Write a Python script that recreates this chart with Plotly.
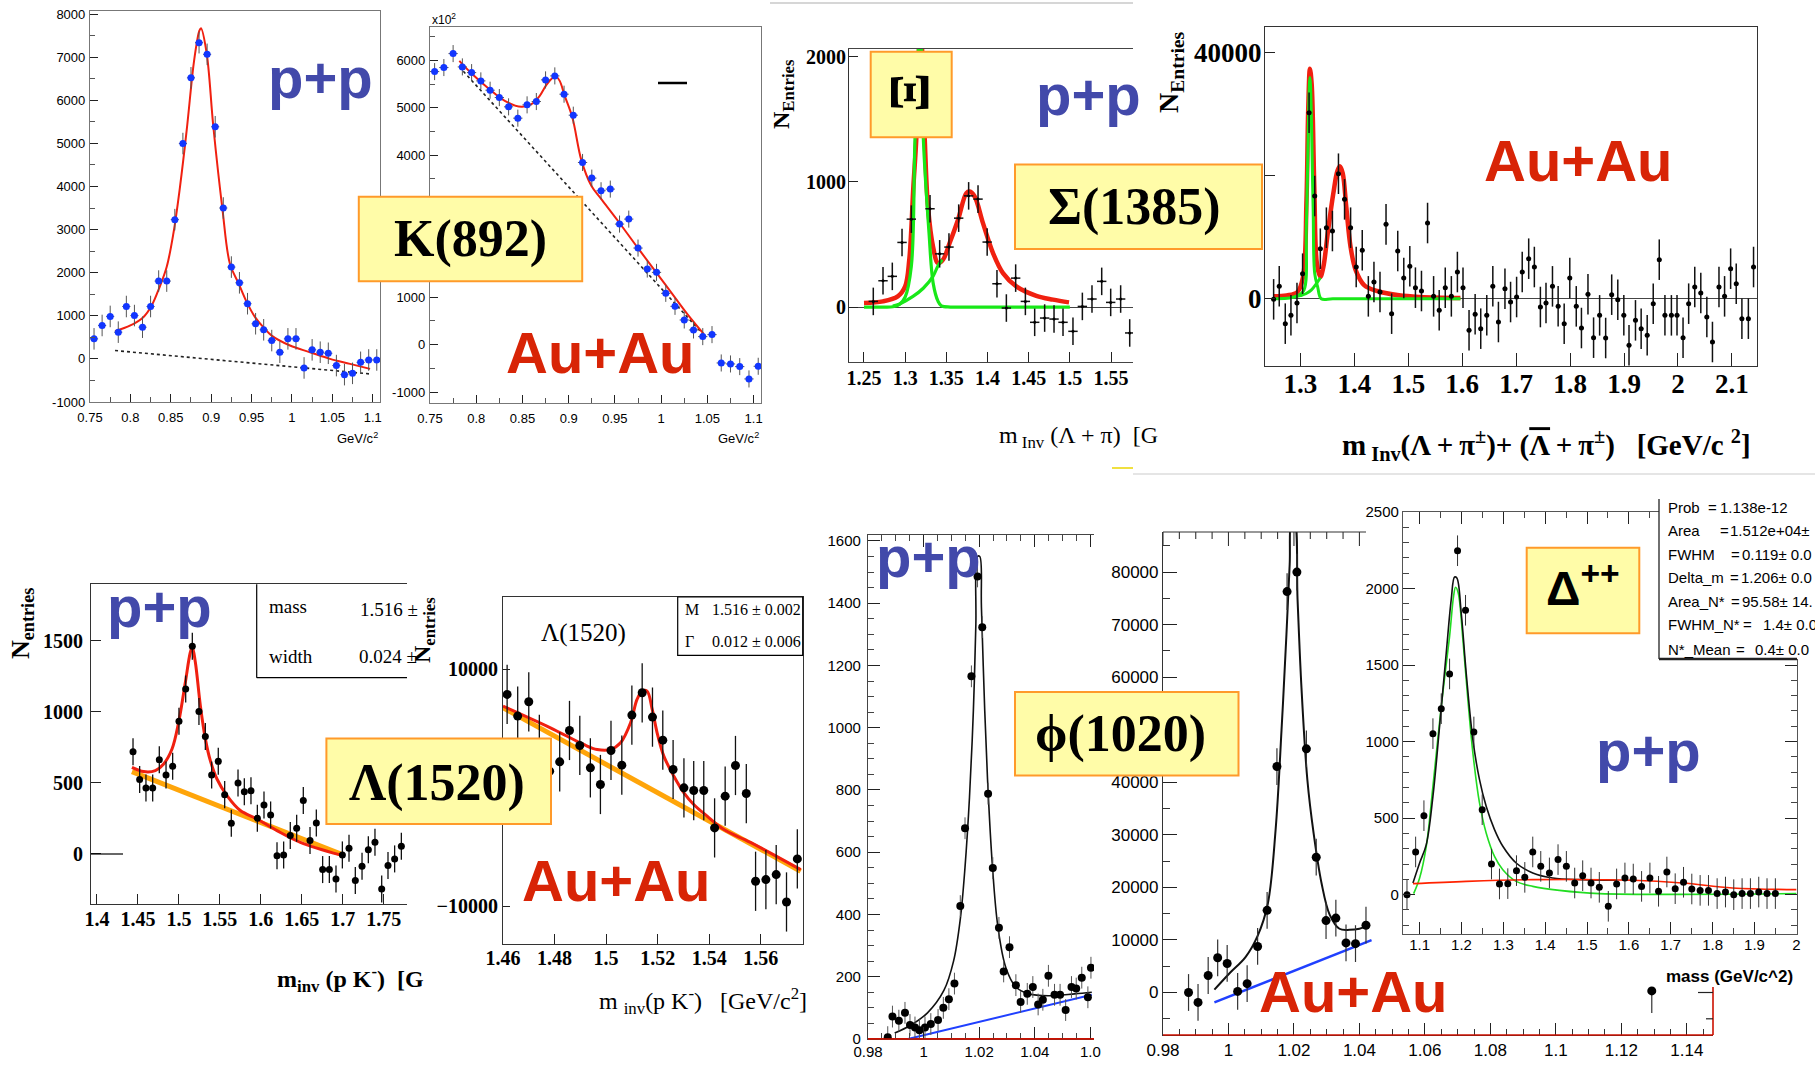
import numpy as np
import plotly.graph_objects as go

W, H = 1815, 1066

# ======================= DATA =======================
# --- K*(892), p+p ---
k_pp_mass = [0.755, 0.765, 0.775, 0.785, 0.795, 0.805, 0.815, 0.825, 0.835, 0.845, 0.855, 0.865,
             0.875, 0.885, 0.895, 0.905, 0.915, 0.925, 0.935, 0.945, 0.955, 0.965, 0.975, 0.985,
             0.995, 1.005, 1.015, 1.025, 1.035, 1.045, 1.055, 1.065, 1.075, 1.085, 1.095, 1.105]
k_pp_counts = [465, 775, 985, 620, 1215, 1005, 735, 1215, 1805, 1805, 3230, 4995,
               6520, 7335, 7065, 5385, 3500, 2130, 1765, 1280, 815, 675, 425, 155,
               465, 465, -210, 210, 155, 130, -155, -365, -335, -80, -25, -25]
k_pp_fit_mass = [0.781, 0.8, 0.816, 0.8264, 0.8358, 0.8449, 0.8532, 0.8614, 0.8697, 0.8779, 0.8821,
                 0.8854, 0.8874, 0.8944, 0.9027, 0.9138, 0.9233, 0.9337, 0.944, 0.9543, 0.9646,
                 0.9749, 0.9976, 1.0224, 1.0471, 1.0719, 1.0967]
k_pp_fit_counts = [643, 775, 968, 1240, 1650, 2130, 2905, 3990, 5305, 6778, 7320,
                   7614, 7668, 7090, 5385, 3500, 2200, 1760, 1317, 970, 736,
                   540, 310, 155, 0, -116, -232]
k_pp_bg_mass = [0.781, 1.0967]
k_pp_bg_counts = [194, -349]

# --- K*(892), Au+Au (x10^2) ---
k_au_mass = k_pp_mass
k_au_counts = [5762, 5847, 6142, 5861, 5741, 5566, 5369, 5214, 5018, 4779, 5060, 5130,
               5587, 5671, 5285, 4842, 3844, 3514, 3247, 3282, 2544, 2649, 2038, 1595,
               1525, 1082, 808, 520, 309, 169, 211, -387, -408, -464, -724, -457]
k_au_fit_mass = [0.7817, 0.795, 0.813, 0.8309, 0.8489, 0.8597, 0.8687, 0.8759, 0.8831, 0.8867, 0.8903,
                 0.8957, 0.904, 0.9137, 0.9245, 0.9353, 0.9532, 0.973, 0.9928, 1.0108, 1.0288, 1.046]
k_au_fit_counts = [5987, 5720, 5411, 5144, 5018, 5074, 5250, 5481, 5636, 5650, 5566,
                   5250, 4793, 3893, 3352, 3071, 2614, 2087, 1574, 1103, 632, 225]
k_au_bg_mass = [0.7817, 1.045]
k_au_bg_counts = [5861, 225]

# --- Sigma(1385), p+p ---
sig_pp_mass = [1.2613, 1.2731, 1.2844, 1.2962, 1.3075, 1.3302, 1.3419, 1.3532, 1.3650, 1.3771, 1.3885,
               1.3996, 1.4115, 1.4229, 1.4342, 1.4460, 1.4573, 1.4694, 1.4808, 1.4917, 1.5038, 1.5152,
               1.5269, 1.5387, 1.5496, 1.5617, 1.5727]
sig_pp_counts = [45, 210, 245, 516, 702, 785, 425, 479, 710, 888, 862,
                 519, 186, -8, 231, 45, -122, -88, -96, -122, -194, 5,
                 64, 205, 37, 64, -207]
sig_pp_tot_mass = [1.25, 1.273, 1.291, 1.30, 1.305, 1.310, 1.3136, 1.3186, 1.3237, 1.3277, 1.3338, 1.3399,
                   1.346, 1.354, 1.3642, 1.3743, 1.3783, 1.3844, 1.3945, 1.4067, 1.4188, 1.435, 1.4593,
                   1.4796, 1.499]
sig_pp_tot_counts = [32, 45, 85, 165, 378, 963, 1356, 2300, 1356, 803, 484, 351,
                     378, 511, 697, 910, 923, 883, 670, 431, 271, 165, 90, 59, 37]
sig_pp_xi_mass = [1.25, 1.27, 1.285, 1.293, 1.30, 1.3075, 1.312, 1.3186, 1.322, 1.329, 1.334, 1.34,
                  1.344, 1.355, 1.38, 1.45, 1.5]
sig_pp_xi_counts = [0, 0, 2, 20, 80, 325, 1356, 2300, 1356, 590, 191, 45, 10, 0, 0, 0, 0]
sig_pp_sig_mass = [1.285, 1.2933, 1.3095, 1.322, 1.3338, 1.3399, 1.345]
sig_pp_sig_counts = [8, 25, 85, 150, 245, 330, 378]

# --- Sigma(1385), Au+Au ---
sig_au_mass = [1.2503, 1.2607, 1.2719, 1.2824, 1.2936, 1.3040, 1.3160, 1.3265, 1.3369, 1.3481, 1.3593,
               1.3705, 1.3818, 1.3930, 1.4034, 1.4146, 1.4259, 1.4363, 1.4475, 1.4587, 1.4691, 1.4804,
               1.4916, 1.5028, 1.5132, 1.5244, 1.5357, 1.5469, 1.5573, 1.5685, 1.5798, 1.5910, 1.6014,
               1.6126, 1.6239, 1.6343, 1.6455, 1.6567, 1.6671, 1.6792, 1.6896, 1.7008, 1.7112, 1.7232,
               1.7337, 1.7449, 1.7553, 1.7673, 1.7778, 1.7890, 1.7994, 1.8114, 1.8210, 1.8331, 1.8435,
               1.8547, 1.8659, 1.8771, 1.8884, 1.8996, 1.9092, 1.9212, 1.9317, 1.9429, 1.9541, 1.9653,
               1.9758, 1.9878, 1.9982, 2.0094, 2.0198, 2.0311, 2.0423, 2.0535, 2.0639, 2.0760, 2.0864,
               2.0976, 2.1080, 2.1185, 2.1305, 2.1401]
sig_au_counts = [-109, 2008, -4069, -2713, -705, 4069, 30277, 16712, 8139, 11557, 11015,
                 20347, 16169, 11557, 5155, 7868, 380, 2713, 1085, 12100, -2442, 7759,
                 3364, 5263, 1791, 1248, 12317, 380, -1899, 1791, 380, 4341, 1791,
                 -5155, -2550, -4883, -2713, 2008, -3798, 1628, -543, 271, 4341, 6511,
                 5155, -1356, -705, 2008, -1248, -4069, 3364, -1248, -4775, 705, -6348,
                 -2713, -6403, 651, -163, -2713, -7596, -3527, -4883, -5968, -814, 6348,
                 -2713, -2713, -2713, -6348, -814, 1899, 922, -2984, -7054, 1899, 380,
                 4883, 2442, -3256, -3256, 5155]
sig_au_tot_mass = [1.2503, 1.2743, 1.2944, 1.3048, 1.3112, 1.3144, 1.3176, 1.3208, 1.3257, 1.3305, 1.3369,
                   1.3425, 1.3505, 1.3609, 1.3689, 1.3737, 1.3786, 1.3850, 1.3930, 1.4026, 1.4186, 1.4427,
                   1.4828, 1.5228, 1.5966]
sig_au_tot_counts = [380, 543, 1085, 3527, 16006, 30655, 37439, 34997, 18177, 5697, 3527,
                     5155, 10580, 17092, 20890, 21541, 20347, 14921, 8410, 4612, 2170, 1248,
                     543, 271, 109]
sig_au_xi_mass = [1.2503, 1.28, 1.295, 1.3064, 1.311, 1.3176, 1.3235, 1.3265, 1.332, 1.3385, 1.36, 1.45, 1.5966]
sig_au_xi_counts = [0, 100, 500, 1356, 12000, 36000, 15000, 4069, 1900, 0, 0, 0, 0]
sig_au_sig_mass = [1.29, 1.30, 1.31, 1.32, 1.33, 1.337]
sig_au_sig_counts = [300, 500, 800, 1400, 2500, 3400]

# --- Lambda(1520), p+p ---
lam_pp_mass = [1.4440, 1.4521, 1.4598, 1.4680, 1.4761, 1.4843, 1.4924, 1.5001, 1.5083, 1.5164, 1.5245,
               1.5323, 1.5400, 1.5481, 1.5559, 1.5640, 1.5722, 1.5799, 1.5880, 1.5958, 1.6039, 1.6120,
               1.6198, 1.6279, 1.6360, 1.6438, 1.6519, 1.6601, 1.6678, 1.6755, 1.6837, 1.6918, 1.6996,
               1.7077, 1.7154, 1.7236, 1.7313, 1.7394, 1.7476, 1.7553, 1.7634, 1.7716]
lam_pp_counts = [719, 523, 464, 464, 663, 555, 616, 933, 1160, 1460, 1001,
                 825, 555, 651, 417, 216, 499, 438, 445, 251, 344, 274,
                 -12, -7, 129, 180, 375, 94, 218, -110, -110, -176, -7,
                 40, -187, -87, 30, 82, -246, -82, -35, 54]
lam_pp_fit_mass = [1.4427, 1.4570, 1.4712, 1.4814, 1.4916, 1.4997, 1.5079, 1.5140, 1.5164, 1.5201, 1.5262,
                   1.5323, 1.5384, 1.5465, 1.5587, 1.5750, 1.5954, 1.6198, 1.6483, 1.6971]
lam_pp_fit_counts = [609, 579, 586, 633, 738, 926, 1207, 1418, 1453, 1348, 1043,
                     809, 656, 527, 410, 305, 246, 164, 82, -7]
lam_pp_bg_mass = [1.4427, 1.6971]
lam_pp_bg_counts = [579, 0]

# --- Lambda(1520), Au+Au ---
lam_au_mass = [1.4616, 1.4657, 1.4700, 1.4741, 1.4781, 1.4820, 1.4858, 1.4898, 1.4939, 1.4978, 1.5019,
               1.5061, 1.5100, 1.5140, 1.5180, 1.5220, 1.5260, 1.5302, 1.5340, 1.5379, 1.5421, 1.5462,
               1.5502, 1.5544, 1.5580, 1.5620, 1.5660, 1.5700, 1.5742]
lam_au_counts = [7887, 6056, 7268, 3662, 1408, 2197, 4845, 3577, 1690, 282, 3155,
                 1915, 6141, 8028, 5972, 4028, 1549, 0, -225, -225, -3380, -704,
                 1887, -479, -7887, -7746, -7324, -9634, -6000]
lam_au_fit_mass = [1.46, 1.4784, 1.4913, 1.4965, 1.5017, 1.5056, 1.5095, 1.5120, 1.5140, 1.5159, 1.5179,
                   1.5198, 1.5224, 1.5263, 1.5302, 1.5340, 1.5392, 1.5457, 1.5560, 1.5755]
lam_au_fit_counts = [6901, 5070, 3662, 3239, 3239, 3803, 5493, 7465, 8169, 8169, 6620,
                     4648, 2676, 986, -423, -1408, -2394, -3521, -4600, -6900]
lam_au_bg_mass = [1.46, 1.5755]
lam_au_bg_counts = [6761, -7042]

# --- phi(1020), p+p ---
phi_pp_mass = [0.9871, 0.9888, 0.9911, 0.9933, 0.9951, 0.9969, 0.9985, 1.0005, 1.0026, 1.0052,
               1.0071, 1.0091, 1.0111, 1.0132, 1.0149, 1.0172, 1.0194, 1.0211, 1.0232, 1.0249,
               1.0271, 1.0288, 1.0309, 1.0332, 1.0349, 1.0373, 1.0393, 1.0412, 1.0429, 1.0449,
               1.0471, 1.0491, 1.0511, 1.0532, 1.0549, 1.0569, 1.0591, 1.0602]
phi_pp_counts = [6, 72, 59, 84, 45, 37, 28, 37, 48, 61,
                 100, 128, 178, 427, 677, 1165, 1486, 1323, 788, 549,
                 357, 217, 295, 173, 119, 145, 167, 111, 126, 203,
                 142, 142, 93, 167, 162, 197, 134, 229]
phi_pp_fit_mass = [0.9896, 0.9955, 1.0014, 1.0073, 1.0108, 1.0132, 1.0149, 1.0165, 1.0179, 1.0188, 1.0194,
                   1.0202, 1.0208, 1.0220, 1.0232, 1.0247, 1.0267, 1.0296, 1.0332, 1.0379, 1.0449, 1.0544,
                   1.0605]
phi_pp_fit_counts = [19, 45, 84, 156, 251, 385, 552, 775, 1054, 1332, 1550,
                     1550, 1388, 1054, 797, 563, 362, 229, 167, 145, 139, 145, 150]
phi_pp_bg_mass = [0.9944, 1.0605]
phi_pp_bg_counts = [0, 142]
phi_pp_zero_mass = [0.98, 1.0613]
phi_pp_zero_counts = [0, 0]

# --- phi(1020), Au+Au ---
phi_au_mass = [0.9878, 0.9907, 0.9938, 0.9967, 0.9996, 1.0028, 1.0057, 1.0089, 1.0118, 1.0148,
               1.0179, 1.0209, 1.0238, 1.0268, 1.0298, 1.0328, 1.0359, 1.0388, 1.0420]
phi_au_counts = [0, -1887, 3235, 6604, 5526, 202, 1685, 8760, 15633, 42992,
                 76280, 79987, 46361, 25741, 13679, 14151, 9434, 9299, 12803]
phi_au_far_mass = [1.1293]
phi_au_far_counts = [300]
phi_au_fit_mass = [0.9957, 1.0004, 1.0052, 1.0089, 1.0120, 1.0144, 1.0162, 1.0177, 1.0187, 1.0193, 1.0201,
                   1.0211, 1.0223, 1.0241, 1.0260, 1.0284, 1.0309, 1.0339, 1.0370, 1.0400, 1.0424]
phi_au_fit_counts = [539, 3706, 6739, 10782, 16846, 30997, 49865, 68059, 81536, 90000, 90000,
                     74798, 57951, 40431, 30323, 20889, 14825, 12129, 11927, 12129, 12668]
phi_au_bg_mass = [0.9957, 1.0437]
phi_au_bg_counts = [-1887, 9973]

# --- Delta++, p+p ---
delta_mass = [1.0698, 1.0905, 1.1103, 1.1318, 1.1517, 1.1716, 1.1906, 1.2097, 1.2296, 1.2495,
              1.2717, 1.2908, 1.3107, 1.3314, 1.3513, 1.3703, 1.3894, 1.4101, 1.4307, 1.4506,
              1.4705, 1.4896, 1.5095, 1.5293, 1.5508, 1.5707, 1.5905, 1.6104, 1.6303, 1.6502,
              1.6708, 1.6907, 1.7106, 1.7305, 1.7503, 1.7702, 1.7901, 1.8108, 1.8307, 1.8505,
              1.8704, 1.8903, 1.9102, 1.9300, 1.9499]
delta_counts = [0, 279, 516, 1052, 1215, 1442, 2247, 1858, 1063, 555,
                200, 70, 72, 157, 113, 279, 185, 142, 229, 185,
                76, 124, 76, 48, -76, 70, 109, 102, 54, 109,
                22, 148, 39, 81, 37, 28, 28, 7, 17, 0,
                7, 7, 17, 7, 7]
delta_tot_mass = [1.0841, 1.1, 1.1159, 1.1318, 1.1477, 1.1636, 1.1755, 1.1835, 1.1890, 1.1994, 1.2113,
                  1.2272, 1.2431, 1.2590, 1.2789, 1.2988, 1.3306, 1.3703, 1.4180, 1.4896, 1.5691]
delta_tot_counts = [76, 207, 327, 642, 1100, 1579, 1927, 2075, 2069, 1840, 1448,
                    1013, 751, 577, 425, 316, 207, 142, 109, 98, 94]
delta_sig_mass = [1.0857, 1.1, 1.1159, 1.1318, 1.1517, 1.1716, 1.1811, 1.1859, 1.1922, 1.2034, 1.2153,
                  1.2272, 1.2431, 1.2590, 1.2789, 1.2988, 1.3306, 1.3703, 1.4339, 1.5293, 2.0]
delta_sig_counts = [7, 109, 316, 708, 1230, 1688, 1949, 2008, 1971, 1666, 1274,
                    926, 599, 403, 250, 163, 87, 54, 28, 7, 7]
delta_bg_mass = [1.0841, 1.2113, 1.3703, 1.6088, 1.7281, 1.8473, 2.0]
delta_bg_counts = [72, 87, 98, 94, 76, 44, 33]

# tick labels
k_xticks = [0.75, 0.8, 0.85, 0.9, 0.95, 1.0, 1.05, 1.1]
k_xlabels = ["0.75", "0.8", "0.85", "0.9", "0.95", "1", "1.05", "1.1"]
k_pp_yticks = [-1000, 0, 1000, 2000, 3000, 4000, 5000, 6000, 7000, 8000]
k_au_yticks = [-1000, 0, 1000, 2000, 3000, 4000, 5000, 6000]
sig_pp_xticks = [1.25, 1.3, 1.35, 1.4, 1.45, 1.5, 1.55]
sig_pp_xlabels = ["1.25", "1.3", "1.35", "1.4", "1.45", "1.5", "1.55"]
sig_pp_yticks = [0, 1000, 2000]
sig_au_xticks = [1.3, 1.4, 1.5, 1.6, 1.7, 1.8, 1.9, 2.0, 2.1]
sig_au_xlabels = ["1.3", "1.4", "1.5", "1.6", "1.7", "1.8", "1.9", "2", "2.1"]
sig_au_yticks = [0, 20000, 40000]
lam_pp_xticks = [1.4, 1.45, 1.5, 1.55, 1.6, 1.65, 1.7, 1.75]
lam_pp_xlabels = ["1.4", "1.45", "1.5", "1.55", "1.6", "1.65", "1.7", "1.75"]
lam_pp_yticks = [0, 500, 1000, 1500]
lam_au_xticks = [1.46, 1.48, 1.5, 1.52, 1.54, 1.56]
lam_au_xlabels = ["1.46", "1.48", "1.5", "1.52", "1.54", "1.56"]
lam_au_yticks = [-10000, 10000]
lam_au_ylabels = ["\u221210000", "10000"]
phi_pp_xticks = [0.98, 1.0, 1.02, 1.04, 1.06]
phi_pp_xlabels = ["0.98", "1", "1.02", "1.04", "1.0"]
phi_pp_yticks = [0, 200, 400, 600, 800, 1000, 1200, 1400, 1600]
phi_au_xticks = [0.98, 1.0, 1.02, 1.04, 1.06, 1.08, 1.1, 1.12, 1.14]
phi_au_xlabels = ["0.98", "1", "1.02", "1.04", "1.06", "1.08", "1.1", "1.12", "1.14"]
phi_au_yticks = [0, 10000, 20000, 30000, 40000, 50000, 60000, 70000, 80000]
delta_xticks = [1.1, 1.2, 1.3, 1.4, 1.5, 1.6, 1.7, 1.8, 1.9, 2.0]
delta_xlabels = ["1.1", "1.2", "1.3", "1.4", "1.5", "1.6", "1.7", "1.8", "1.9", "2"]
delta_yticks = [0, 500, 1000, 1500, 2000, 2500]

# ======================= STYLE =======================
SANS = "Liberation Sans, Arial, Helvetica, sans-serif"
NARROW = "Liberation Sans Narrow, Arial Narrow, Liberation Sans, sans-serif"
SERIF = "Liberation Serif, Times New Roman, Times, serif"
PP_BLUE = "#4249AA"
AU_RED = "#D82406"
FIT_RED = "#F02010"
GREEN = "#18E818"
ORANGE = "#FFA50A"
BOX_FILL = "#FFFCA8"
BOX_LINE = "#FF9A2A"

fig = go.Figure()


def ref(i):
    return ("x", "y") if i == 1 else ("x%d" % i, "y%d" % i)


def curve(i, x, y, color, width, dash="solid", shape="spline"):
    xr, yr = ref(i)
    fig.add_trace(go.Scatter(x=x, y=y, mode="lines", xaxis=xr, yaxis=yr, hoverinfo="skip",
                             line=dict(color=color, width=width, dash=dash, shape=shape)))


def points(i, x, y, ey, ex=None, color="black", size=7, ecolor="#222", eth=1.2, eminus=None):
    xr, yr = ref(i)
    ed = dict(type="constant", value=ey, thickness=eth, width=0, color=ecolor)
    if eminus is not None:
        ed = dict(type="constant", value=0, valueminus=eminus, symmetric=False,
                  thickness=eth, width=0, color=ecolor)
    tr = go.Scatter(x=x, y=y, mode="markers", xaxis=xr, yaxis=yr, hoverinfo="skip",
                    marker=dict(color=color, size=size, line=dict(width=0)), error_y=ed)
    if ex:
        tr.error_x = dict(type="constant", value=ex, thickness=eth, width=0, color=ecolor)
    fig.add_trace(tr)


# ---- panel 1: K p+p
curve(1, k_pp_bg_mass, k_pp_bg_counts, "#222", 1.6, dash="dot", shape="linear")
curve(1, k_pp_fit_mass, k_pp_fit_counts, FIT_RED, 2)
points(1, k_pp_mass, k_pp_counts, 250, 0.005, color="#1236FF", size=7, ecolor="#555", eth=1)
# ---- panel 2: K Au+Au
curve(2, k_au_bg_mass, k_au_bg_counts, "#222", 1.6, dash="dot", shape="linear")
curve(2, k_au_fit_mass, k_au_fit_counts, FIT_RED, 2)
points(2, k_au_mass, k_au_counts, 180, 0.005, color="#1236FF", size=7, ecolor="#555", eth=1)
# ---- panel 3: Sigma p+p
curve(3, sig_pp_tot_mass, sig_pp_tot_counts, FIT_RED, 4.5)
curve(3, sig_pp_xi_mass, sig_pp_xi_counts, GREEN, 3.2)
curve(3, sig_pp_sig_mass, sig_pp_sig_counts, GREEN, 3.2)
points(3, sig_pp_mass, sig_pp_counts, 110, 0.0057, size=3, ecolor="#111", eth=1.5)
# ---- panel 4: Sigma Au+Au
curve(4, sig_au_tot_mass, sig_au_tot_counts, FIT_RED, 4.5)
curve(4, sig_au_xi_mass, sig_au_xi_counts, GREEN, 3)
curve(4, sig_au_sig_mass, sig_au_sig_counts, GREEN, 3)
points(4, sig_au_mass, sig_au_counts, 3300, 0.004, size=5, ecolor="#111", eth=1.5)
# ---- panel 5: Lambda p+p
curve(5, lam_pp_bg_mass, lam_pp_bg_counts, ORANGE, 5, shape="linear")
curve(5, lam_pp_fit_mass, lam_pp_fit_counts, FIT_RED, 3)
points(5, lam_pp_mass, lam_pp_counts, 95, 0.003, size=7, ecolor="#111", eth=1.3)
# ---- panel 6: Lambda Au+Au
curve(6, lam_au_bg_mass, lam_au_bg_counts, ORANGE, 5, shape="linear")
curve(6, lam_au_fit_mass, lam_au_fit_counts, FIT_RED, 3)
points(6, lam_au_mass, lam_au_counts, 2500, 0.0015, size=9, ecolor="#111", eth=1.3)
# ---- panel 7: phi p+p
curve(7, phi_pp_zero_mass, phi_pp_zero_counts, "#CC1100", 2, shape="linear")
curve(7, phi_pp_bg_mass, phi_pp_bg_counts, "#2040FF", 2, shape="linear")
curve(7, phi_pp_fit_mass, phi_pp_fit_counts, "#111", 1.6)
points(7, phi_pp_mass, phi_pp_counts, 35, None, size=8, ecolor="#555", eth=1)
# ---- panel 8: phi Au+Au
curve(8, phi_au_bg_mass, phi_au_bg_counts, "#2040FF", 2.5, shape="linear")
curve(8, phi_au_fit_mass, phi_au_fit_counts, "#111", 2)
points(8, phi_au_mass, phi_au_counts, 3500, None, size=9, ecolor="#333", eth=1.2)
points(8, phi_au_far_mass, phi_au_far_counts, 0, None, size=9, ecolor="#333", eth=1.2, eminus=4200)
# ---- panel 9: Delta++ p+p
curve(9, delta_sig_mass, delta_sig_counts, "#22DD22", 1.6)
curve(9, delta_tot_mass, delta_tot_counts, "#111", 1.6)
curve(9, delta_bg_mass, delta_bg_counts, "#FF2200", 1.6)
points(9, delta_mass, delta_counts, 100, 0.004, size=7, ecolor="#333", eth=1)

# ======================= AXES =======================
axes = {}


def rng_step(a, b, s, exclude=None):
    v = np.round(np.arange(a, b + s / 2, s), 5).tolist()
    if exclude:
        v = [t for t in v if all(abs(t - e) > 1e-6 for e in exclude)]
    return v


def setup(i, frame, xr, yr, xt, xl, yt, yl, font, xopt=None, yopt=None):
    x0, x1, y0, y1 = frame
    xn = "xaxis" if i == 1 else "xaxis%d" % i
    yn = "yaxis" if i == 1 else "yaxis%d" % i
    xa_ref, ya_ref = ref(i)
    base = dict(showgrid=False, zeroline=False, fixedrange=True, ticks="inside", tickwidth=1.2,
                tickcolor="#222", showline=True, linecolor="#333", linewidth=1.2, mirror=True,
                tickmode="array", tickfont=font, ticklen=9, automargin=False)
    xa = dict(base, domain=[x0 / W, x1 / W], range=xr, anchor=ya_ref, tickvals=xt, ticktext=xl)
    ya = dict(base, domain=[1 - y1 / H, 1 - y0 / H], range=yr, anchor=xa_ref, tickvals=yt, ticktext=yl)
    xa.update(xopt or {})
    ya.update(yopt or {})
    axes[xn] = xa
    axes[yn] = ya


def minor(vals, length, color="#222"):
    return dict(tickmode="array", tickvals=vals, ticks="inside", ticklen=length, tickwidth=1,
                tickcolor=color, showgrid=False)


f_k = dict(family=NARROW, size=13, color="black")
setup(1, (90, 380, 11, 402), [0.75, 1.109], [-1000, 8070], k_xticks, k_xlabels,
      k_pp_yticks, [str(v) for v in k_pp_yticks], f_k,
      xopt=dict(linecolor="#777", ticklen=8, ticklabelstandoff=3,
                minor=minor(rng_step(0.775, 1.1, 0.05), 5, "#555")),
      yopt=dict(linecolor="#777", ticklen=8, ticklabelstandoff=1,
                minor=minor(rng_step(-500, 7500, 1000), 5, "#555")))
setup(2, (430, 761, 27, 403), [0.75, 1.108], [-1232, 6703], k_xticks, k_xlabels,
      k_au_yticks, [str(v) for v in k_au_yticks], f_k,
      xopt=dict(linecolor="#777", ticklen=8, ticklabelstandoff=3,
                minor=minor(rng_step(0.775, 1.1, 0.05), 5, "#555")),
      yopt=dict(linecolor="#777", ticklen=8, ticklabelstandoff=1,
                minor=minor(rng_step(-500, 6500, 1000), 5, "#555")))
f_s3 = dict(family=SERIF, size=20, color="black", weight="bold")
setup(3, (849, 1133, 49, 362), [1.2318, 1.5767], [-439, 2061], sig_pp_xticks, sig_pp_xlabels,
      sig_pp_yticks, ["0", "1000", "2000"], f_s3,
      xopt=dict(linecolor="#444", ticklen=10, ticklabelstandoff=-2),
      yopt=dict(mirror=False, ticklen=9, ticklabelstandoff=-2,
                zeroline=True, zerolinecolor="#444", zerolinewidth=1.2))
f_s4 = dict(family=SERIF, size=27, color="black", weight="bold")
setup(4, (1265, 1757, 27, 366), [1.2343, 2.1465], [-10960, 44232], sig_au_xticks, sig_au_xlabels,
      sig_au_yticks, ["0", "20000", "40000"], f_s4,
      xopt=dict(ticklen=13, ticklabelstandoff=-7),
      yopt=dict(ticklen=10, ticklabelstandoff=-3,
                zeroline=True, zerolinecolor="#444", zerolinewidth=1.2))
f_s5 = dict(family=SERIF, size=20, color="black", weight="bold")
setup(5, (91, 407, 584, 904), [1.3927, 1.7785], [-352, 1898], lam_pp_xticks, lam_pp_xlabels,
      lam_pp_yticks, ["0", "500", "1000", "1500"], f_s5,
      xopt=dict(ticklen=10, ticklabelstandoff=-3),
      yopt=dict(mirror=False, ticklen=10, ticklabelstandoff=3))
setup(6, (503, 803, 597, 944), [1.46, 1.5764], [-13183, 16113], lam_au_xticks, lam_au_xlabels,
      lam_au_yticks, lam_au_ylabels, f_s5,
      xopt=dict(ticklen=10, ticklabelstandoff=-4),
      yopt=dict(ticklen=7, ticklabelstandoff=0))
f_n7 = dict(family=NARROW, size=15, color="black")
setup(7, (868, 1094, 535, 1039), [0.98, 1.0613], [0, 1619], phi_pp_xticks, phi_pp_xlabels,
      phi_pp_yticks, [str(v) for v in phi_pp_yticks], f_n7,
      xopt=dict(mirror="ticks", linecolor="#444", ticklen=12, ticklabelstandoff=-1,
                minor=minor(rng_step(0.985, 1.06, 0.005, exclude=phi_pp_xticks), 6, "#444")),
      yopt=dict(mirror=False, linecolor="#444", ticklen=12, ticklabelstandoff=3,
                minor=minor(rng_step(50, 1600, 50, exclude=phi_pp_yticks), 6, "#444")))
f_n8 = dict(family=NARROW, size=17, color="black")
setup(8, (1163, 1713, 532, 1035), [0.98, 1.148], [-8086, 87615], phi_au_xticks, phi_au_xlabels,
      phi_au_yticks, [str(v) for v in phi_au_yticks], f_n8,
      xopt=dict(mirror=False, linecolor="#333", ticklen=12, ticklabelstandoff=-1,
                minor=minor(rng_step(0.985, 1.145, 0.005, exclude=phi_au_xticks), 6, "#333")),
      yopt=dict(mirror=False, linecolor="#333", ticklen=14, ticklabelstandoff=0,
                minor=minor(rng_step(-5000, 85000, 10000), 7, "#333")))
f_n9 = dict(family=NARROW, size=15, color="black")
setup(9, (1403, 1797, 512, 934), [1.0603, 2.0016], [-257, 2500], delta_xticks, delta_xlabels,
      delta_yticks, [str(v) for v in delta_yticks], f_n9,
      xopt=dict(mirror="ticks", linecolor="#555", ticklen=12, ticklabelstandoff=-3,
                minor=minor(rng_step(1.15, 1.95, 0.1), 6, "#444")),
      yopt=dict(mirror="ticks", linecolor="#555", ticklen=12, ticklabelstandoff=0,
                minor=minor(rng_step(-200, 2400, 100, exclude=delta_yticks), 6, "#444")))

# ======================= SHAPES & TEXT =======================
shapes = []
annotations = []


def P(x, y):
    return x / W, 1 - y / H


def seg(x0, y0, x1, y1, color="black", width=1.2):
    a, b = P(x0, y0)
    c, d = P(x1, y1)
    shapes.append(dict(type="line", xref="paper", yref="paper", x0=a, y0=b, x1=c, y1=d,
                       line=dict(color=color, width=width), layer="above"))


def box(x0, y0, x1, y1, fill, line=None, width=2):
    a, b = P(x0, y0)
    c, d = P(x1, y1)
    shapes.append(dict(type="rect", xref="paper", yref="paper", x0=a, y0=d, x1=c, y1=b,
                       fillcolor=fill, line=dict(color=line or fill, width=width if line else 0),
                       layer="above"))


def txt(s, x, y, size, color="black", family=SANS, xa="center", ya="middle", angle=0):
    a, b = P(x, y)
    annotations.append(dict(text=s, x=a, y=b, xref="paper", yref="paper", showarrow=False,
                            xanchor=xa, yanchor=ya, textangle=angle,
                            font=dict(size=size, color=color, family=family)))


# image-edge decorations
seg(770, 3, 1133, 3, "#C8C8C8", 1.5)
seg(1133, 474, 1815, 474, "#DDDDDD", 1.5)
seg(1112, 468, 1133, 468, "#F0E040", 2)
seg(658, 83, 687, 83, "black", 2.5)                  # legend stub, K Au+Au
seg(91, 854, 123, 854, "black", 1.2)                  # long zero tick, Lambda p+p
seg(256.7, 584.3, 256.7, 677.7, "black", 1.2)         # stat box, Lambda p+p
seg(256.7, 677.7, 407, 677.7, "black", 1.2)
box(677.7, 597, 802.7, 655.3, "white", "black", 1.2)  # stat box, Lambda Au+Au
seg(868, 1039, 1094, 1039, "#CC1100", 1.6)            # red x axis, phi p+p
seg(1163, 1035, 1713, 1035, "#CC1100", 1.6)           # red x axis, phi Au+Au
seg(1713, 987, 1713, 1035, "#CC1100", 1.6)
seg(1698, 992.5, 1713, 992.5, "#222", 1.2)
seg(1706, 1018.8, 1713, 1018.8, "#222", 1.2)
seg(1163, 532, 1366, 532, "#333", 1.2)
for v in rng_step(0.98, 1.04, 0.005):
    xp = 1163 + (v - 0.98) * 550 / 0.168
    major = abs(v * 50 - round(v * 50)) < 1e-6
    seg(xp, 532, xp, 532 + (14 if major else 7), "#333", 1.1)
# stat box, Delta++
box(1659, 499, 1815, 659, "white")
seg(1659, 499, 1659, 659, "#222", 1.3)
seg(1659, 659, 1797, 659, "#222", 2.5)

# label boxes
box(358.8, 196.8, 582.2, 281.3, BOX_FILL, BOX_LINE, 2)
box(870.7, 51.7, 951.7, 137.3, BOX_FILL, BOX_LINE, 2)
box(1015, 164.4, 1262, 248.9, BOX_FILL, BOX_LINE, 2)
box(326.4, 738.5, 551, 824, BOX_FILL, BOX_LINE, 2)
box(1015, 692, 1238.5, 775.5, BOX_FILL, BOX_LINE, 2)
box(1526.7, 547.7, 1639.3, 633.3, BOX_FILL, BOX_LINE, 2)
txt("<b>K(892)</b>", 470.5, 239, 52, family=SERIF)
txt("<b>\u039e</b>", 910, 92, 58, family=SERIF, angle=-90)
txt("<b>\u03a3(1385)</b>", 1134, 207, 52, family=SERIF)
txt("<b>\u039b(1520)</b>", 437, 783, 52, family=SERIF)
txt("<b>\u03d5(1020)</b>", 1120, 734, 52, family=SERIF)
txt("<b>\u0394<sup>++</sup></b>", 1582.7, 585, 48, family=SANS)

# collision-system labels
for (x, y) in [(320, 77), (1088.5, 94.5), (159.5, 606.5), (928, 556), (1648, 750.5)]:
    txt("<b>p+p</b>", x, y, 58, PP_BLUE)
for (x, y) in [(600, 352.5), (1578.5, 160), (616.5, 880), (1353, 991.5)]:
    txt("<b>Au+Au</b>", x, y, 58, AU_RED)

# axis titles and units
TH = "\u2009"
txt("GeV/c<sup>2</sup>", 380, 438, 13, family=NARROW, xa="right")
txt("GeV/c<sup>2</sup>", 761, 438, 13, family=NARROW, xa="right")
txt("x10<sup>2</sup>", 430, 19, 12, family=NARROW, xa="left")
txt("<b>N<sub>Entries</sub></b>", 783, 94, 24, family=SERIF, angle=-90)
txt("m<sub> Inv</sub> (\u039b + \u03c0)  [G", 997, 437, 24, family=SERIF, xa="left")
txt("<b>N<sub>Entries</sub></b>", 1170, 72, 28, family=SERIF, angle=-90)
txt("<b>m<sub> Inv</sub>(\u039b" + TH + "+" + TH + "\u03c0<sup>\u00b1</sup>)+ ("
    "<span style='text-decoration:overline'>\u039b</span>" + TH + "+" + TH +
    "\u03c0<sup>\u00b1</sup>)\u2002 [GeV/c <sup>2</sup>]</b>",
    1546.5, 445, 29, family=SERIF)
txt("<b>N<sub>entries</sub></b>", 22, 624, 26, family=SERIF, angle=-90)
txt("<b>m<sub>inv</sub> (p K<sup>-</sup>)  [G</b>", 275, 979, 24, family=SERIF, xa="left")
txt("<b>N<sub>entries</sub></b>", 424, 630, 24, family=SERIF, angle=-90)
txt("m <sub>inv</sub>(p K<sup>-</sup>)   [GeV/c<sup>2</sup>]", 597, 1001, 24, family=SERIF, xa="left")
txt("<b>mass (GeV/c^2)</b>", 1795, 976, 17, family=NARROW, xa="right")

# stat boxes text
txt("mass", 267, 606, 19, family=SERIF, xa="left")
txt("1.516 \u00b1", 358, 609, 19, family=SERIF, xa="left")
txt("width", 267, 656, 19, family=SERIF, xa="left")
txt("0.024 \u00b1", 357, 656, 19, family=SERIF, xa="left")
txt("\u039b(1520)", 583, 633, 25, family=SERIF)
txt("M", 683, 609, 16, family=SERIF, xa="left")
txt("1.516 \u00b1 0.002", 710, 609, 16, family=SERIF, xa="left")
txt("\u0393", 683, 641, 16, family=SERIF, xa="left")
txt("0.012 \u00b1 0.006", 710, 641, 16, family=SERIF, xa="left")
stat_rows = [("Prob", "=", "1.138e-12", 507.7, 1706, 1718),
             ("Area", "=", "1.512e+04\u00b1", 530.5, 1718, 1728),
             ("FWHM", "=", "0.119\u00b1 0.0", 554, 1729, 1740),
             ("Delta_m", "=", "1.206\u00b1 0.0", 577.5, 1728, 1739),
             ("Area_N*", "=", "95.58\u00b1 14.", 601, 1729, 1740),
             ("FWHM_N*", "=", "1.4\u00b1 0.0", 624.5, 1741, 1761),
             ("N*_Mean", "=", "0.4\u00b1 0.0", 649, 1734, 1753)]
for lab, eq, val, y, xe, xv in stat_rows:
    txt(lab, 1666, y, 15, family=NARROW, xa="left")
    txt(eq, xe, y, 15, family=NARROW, xa="left")
    txt(val, xv, y, 15, family=NARROW, xa="left")

fig.update_layout(width=W, height=H, autosize=False,
                  margin=dict(l=0, r=0, t=0, b=0, pad=0, autoexpand=False),
                  paper_bgcolor="white", plot_bgcolor="white", showlegend=False, hovermode=False,
                  shapes=shapes, annotations=annotations, **axes)
fig.write_html("out.html",
               post_script="document.body.style.margin='0';document.body.style.padding='0';"
                           "document.body.style.overflow='hidden';"
                           "document.documentElement.style.overflow='hidden';")
